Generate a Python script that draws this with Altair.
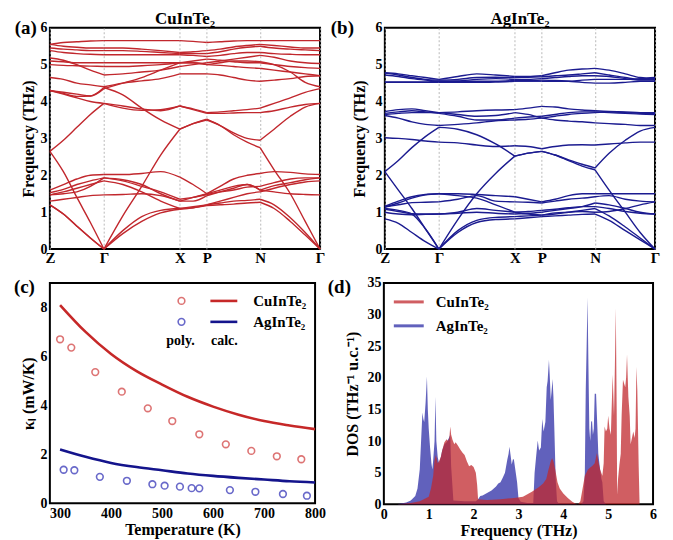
import altair as alt
import pandas as pd

FONT = "Liberation Serif"

# ---------------- phonon dispersion data ----------------
K = [0.0, 0.05, 0.1, 0.15, 0.2, 0.27, 0.34, 0.41, 0.481, 0.53, 0.581,
     0.63, 0.68, 0.73, 0.778, 0.83, 0.89, 0.945, 1.0]
SEGMENTS = [(0, 4), (4, 8), (8, 10), (10, 14), (14, 18)]
SYM_POS = [0.0, 0.2, 0.481, 0.581, 0.778, 1.0]
SYM_LAB = ["Z", "Γ", "X", "P", "N", "Γ"]

CU_BANDS = [
    [1.2, 0.95, 0.62, 0.3, 0.0, 0.42, 0.75, 0.98, 1.08, 1.12, 1.18, 1.2, 1.22, 1.25, 1.27, 1.1, 0.75, 0.38, 0.0],
    [1.2, 0.95, 0.62, 0.3, 0.0, 0.5, 0.88, 1.05, 1.1, 1.15, 1.2, 1.25, 1.3, 1.32, 1.35, 1.2, 0.85, 0.45, 0.0],
    [2.65, 2.1, 1.4, 0.72, 0.0, 0.9, 1.7, 2.55, 3.25, 3.4, 3.5, 3.35, 3.1, 2.9, 2.75, 2.15, 1.5, 0.75, 0.0],
    [2.65, 2.95, 3.3, 3.65, 3.95, 3.88, 3.8, 3.75, 3.88, 3.8, 3.7, 3.72, 3.75, 3.78, 3.82, 3.95, 4.1, 4.25, 4.35],
    [4.3, 4.2, 4.1, 4.0, 3.95, 3.82, 3.76, 3.78, 3.88, 3.78, 3.68, 3.68, 3.69, 3.7, 3.7, 3.75, 3.85, 3.92, 3.95],
    [4.3, 4.22, 4.14, 4.15, 4.38, 4.18, 3.82, 3.5, 3.25, 3.4, 3.52, 3.35, 3.15, 3.0, 2.95, 3.25, 3.6, 3.85, 3.95],
    [4.65, 4.6, 4.5, 4.45, 4.4, 4.5, 4.56, 4.62, 4.75, 4.75, 4.75, 4.72, 4.65, 4.58, 4.55, 4.58, 4.62, 4.68, 4.7],
    [4.3, 4.25, 4.2, 4.15, 4.35, 4.5, 4.65, 4.85, 5.05, 5.05, 5.0, 5.05, 5.1, 5.1, 5.08, 5.0, 4.8, 4.52, 4.4],
    [5.55, 5.6, 5.62, 5.64, 5.65, 5.65, 5.65, 5.65, 5.65, 5.63, 5.6, 5.62, 5.64, 5.65, 5.65, 5.65, 5.65, 5.65, 5.65],
    [5.55, 5.5, 5.47, 5.45, 5.45, 5.45, 5.42, 5.38, 5.33, 5.35, 5.38, 5.42, 5.48, 5.52, 5.55, 5.52, 5.48, 5.45, 5.45],
    [5.45, 5.42, 5.4, 5.38, 5.38, 5.38, 5.36, 5.33, 5.3, 5.3, 5.3, 5.35, 5.42, 5.47, 5.5, 5.45, 5.42, 5.4, 5.38],
    [5.38, 5.33, 5.3, 5.28, 5.27, 5.27, 5.27, 5.27, 5.27, 5.25, 5.22, 5.25, 5.3, 5.33, 5.33, 5.3, 5.28, 5.27, 5.27],
    [5.18, 5.12, 5.0, 4.85, 4.72, 4.75, 4.8, 4.85, 4.95, 5.0, 5.05, 5.1, 5.15, 5.2, 5.25, 5.2, 5.1, 5.05, 5.03],
    [5.1, 5.08, 5.05, 5.05, 5.05, 5.05, 5.05, 5.05, 5.05, 5.1, 5.15, 5.12, 5.08, 5.05, 5.05, 5.0, 4.95, 4.92, 4.9],
    [5.0, 4.98, 4.97, 4.96, 4.95, 4.95, 4.97, 5.0, 5.05, 5.05, 5.0, 4.98, 4.95, 4.92, 4.9, 4.85, 4.8, 4.75, 4.7],
    [1.3, 1.35, 1.4, 1.45, 1.47, 1.48, 1.5, 1.45, 1.3, 1.3, 1.45, 1.55, 1.65, 1.75, 1.6, 1.55, 1.5, 1.48, 1.47],
    [1.47, 1.55, 1.65, 1.75, 1.85, 1.75, 1.55, 1.3, 1.1, 1.12, 1.2, 1.3, 1.4, 1.5, 1.55, 1.65, 1.75, 1.82, 1.85],
    [1.53, 1.62, 1.75, 1.85, 1.93, 1.88, 1.75, 1.5, 1.3, 1.4, 1.5, 1.6, 1.7, 1.75, 1.6, 1.72, 1.8, 1.88, 1.93],
    [1.6, 1.75, 1.9, 2.0, 2.02, 2.02, 2.05, 2.1, 1.95, 1.75, 1.5, 1.7, 1.9, 2.0, 2.05, 2.1, 2.08, 2.04, 2.02],
    [1.47, 1.5, 1.55, 1.7, 1.93, 1.85, 1.7, 1.55, 1.35, 1.4, 1.48, 1.55, 1.6, 1.68, 1.7, 1.8, 1.9, 1.93, 1.93],
]

AG_BANDS = [
    [0.82, 0.7, 0.45, 0.2, 0.0, 0.45, 0.72, 0.8, 0.82, 0.85, 0.88, 0.9, 0.92, 0.94, 0.95, 0.78, 0.5, 0.25, 0.0],
    [1.1, 1.05, 0.95, 0.55, 0.0, 0.5, 0.78, 0.86, 0.88, 0.9, 0.92, 0.95, 1.0, 1.05, 1.1, 0.9, 0.6, 0.3, 0.0],
    [2.1, 1.6, 1.1, 0.55, 0.0, 0.8, 1.5, 2.05, 2.52, 2.6, 2.65, 2.55, 2.4, 2.25, 2.15, 1.6, 1.0, 0.45, 0.0],
    [2.1, 2.4, 2.75, 3.05, 3.3, 3.25, 3.1, 2.85, 2.52, 2.6, 2.65, 2.55, 2.42, 2.3, 2.2, 2.6, 2.95, 3.2, 3.3],
    [3.02, 3.0, 2.97, 2.93, 2.9, 2.88, 2.82, 2.78, 2.8, 2.78, 2.72, 2.78, 2.82, 2.83, 2.82, 2.85, 2.88, 2.9, 2.9],
    [3.62, 3.55, 3.45, 3.38, 3.35, 3.38, 3.42, 3.48, 3.5, 3.52, 3.55, 3.5, 3.47, 3.45, 3.42, 3.4, 3.38, 3.35, 3.35],
    [3.65, 3.68, 3.7, 3.7, 3.7, 3.65, 3.6, 3.62, 3.7, 3.65, 3.55, 3.6, 3.65, 3.68, 3.7, 3.72, 3.7, 3.68, 3.67],
    [3.73, 3.78, 3.8, 3.75, 3.7, 3.72, 3.75, 3.77, 3.78, 3.82, 3.87, 3.85, 3.8, 3.77, 3.75, 3.73, 3.72, 3.7, 3.7],
    [3.68, 3.72, 3.75, 3.72, 3.68, 3.6, 3.5, 3.5, 3.55, 3.58, 3.6, 3.65, 3.7, 3.72, 3.72, 3.7, 3.68, 3.66, 3.65],
    [4.78, 4.75, 4.7, 4.65, 4.6, 4.68, 4.75, 4.72, 4.68, 4.68, 4.7, 4.78, 4.85, 4.88, 4.9, 4.85, 4.75, 4.65, 4.62],
    [4.77, 4.72, 4.65, 4.6, 4.58, 4.6, 4.65, 4.66, 4.65, 4.66, 4.67, 4.7, 4.72, 4.75, 4.78, 4.72, 4.65, 4.6, 4.6],
    [4.72, 4.68, 4.62, 4.58, 4.55, 4.56, 4.6, 4.62, 4.6, 4.6, 4.62, 4.65, 4.68, 4.7, 4.7, 4.68, 4.62, 4.58, 4.58],
    [4.53, 4.53, 4.53, 4.53, 4.55, 4.55, 4.55, 4.55, 4.57, 4.57, 4.58, 4.57, 4.55, 4.52, 4.5, 4.5, 4.52, 4.55, 4.55],
    [4.52, 4.52, 4.52, 4.52, 4.52, 4.52, 4.52, 4.53, 4.55, 4.55, 4.55, 4.55, 4.55, 4.58, 4.6, 4.6, 4.6, 4.62, 4.65],
    [1.14, 1.25, 1.38, 1.47, 1.5, 1.5, 1.48, 1.45, 1.42, 1.35, 1.28, 1.35, 1.45, 1.5, 1.5, 1.5, 1.5, 1.5, 1.5],
    [1.14, 1.2, 1.26, 1.27, 1.28, 1.35, 1.45, 1.3, 1.28, 1.27, 1.25, 1.3, 1.35, 1.38, 1.42, 1.45, 1.35, 1.3, 1.28],
    [1.08, 1.02, 0.96, 0.95, 0.95, 1.0, 1.1, 1.05, 1.0, 1.02, 1.05, 1.08, 1.12, 1.15, 1.15, 1.1, 1.02, 0.97, 0.95],
    [1.0, 0.95, 0.93, 0.94, 0.95, 0.97, 1.0, 0.97, 0.95, 0.97, 1.0, 1.05, 1.1, 1.15, 1.25, 1.2, 1.1, 1.0, 0.95],
    [1.16, 1.3, 1.42, 1.48, 1.5, 1.45, 1.38, 1.2, 1.0, 0.95, 0.92, 0.98, 1.0, 1.02, 1.0, 1.02, 1.1, 1.2, 1.28],
]

# ---------------- thermal conductivity data ----------------
T_CALC = [300, 350, 400, 450, 500, 550, 600, 650, 700, 750, 800]
CU_CALC = [8.1, 7.0, 6.1, 5.4, 4.85, 4.35, 3.95, 3.62, 3.36, 3.18, 3.03]
AG_CALC = [2.2, 1.9, 1.65, 1.48, 1.35, 1.22, 1.12, 1.04, 0.97, 0.9, 0.85]
T_CU_POLY = [300, 322, 369, 421, 472, 520, 573, 625, 675, 725, 773]
CU_POLY = [6.7, 6.36, 5.36, 4.56, 3.88, 3.36, 2.82, 2.41, 2.14, 1.92, 1.8]
T_AG_POLY = [307, 328, 378, 431, 481, 505, 535, 558, 573, 633, 683, 737, 784]
AG_POLY = [1.37, 1.35, 1.08, 0.92, 0.78, 0.72, 0.68, 0.62, 0.61, 0.54, 0.47, 0.38, 0.31]

# ---------------- phonon DOS data ----------------
AG_F = [0.0, 0.3, 0.5, 0.6, 0.7, 0.75, 0.8, 0.83, 0.86, 0.88, 0.9, 0.93, 0.96, 0.98, 1.0, 1.03,
        1.06, 1.08, 1.1, 1.13, 1.15, 1.17, 1.2, 1.23, 1.27, 1.3, 1.35, 1.4, 1.45, 1.48, 1.5,
        1.55, 1.8, 2.05, 2.1, 2.15, 2.2, 2.3, 2.4, 2.5, 2.55, 2.6, 2.65, 2.7, 2.75, 2.78, 2.8,
        2.83, 2.85, 2.88, 2.9, 2.93, 2.97, 3.0, 3.05, 3.2, 3.33, 3.36, 3.4, 3.43, 3.46, 3.5,
        3.53, 3.56, 3.6, 3.63, 3.65, 3.68, 3.7, 3.72, 3.74, 3.76, 3.78, 3.8, 3.83, 3.86, 3.9,
        4.4, 4.45, 4.48, 4.5, 4.52, 4.54, 4.56, 4.58, 4.6, 4.62, 4.64, 4.66, 4.68, 4.7, 4.73,
        4.76, 4.78, 4.82, 4.85, 4.87, 4.9, 4.95, 6.0]
AG_DOS = [0.0, 0.0, 0.3, 0.6, 1.3, 2.5, 5.5, 10.0, 14.5, 13.5, 13.0, 16.0, 20.2, 15.0, 12.0, 9.0,
          6.5, 5.5, 7.0, 10.0, 17.0, 10.0, 7.5, 6.5, 7.5, 8.5, 9.5, 9.8, 10.5, 11.0, 6.0,
          0.6, 0.5, 0.5, 0.8, 1.3, 1.4, 1.8, 2.2, 2.8, 3.3, 3.5, 4.2, 5.0, 7.0, 8.0, 9.1,
          7.5, 6.3, 7.2, 7.0, 5.5, 3.5, 1.0, 0.4, 0.2, 0.2, 5.0, 8.0, 10.1, 8.5, 9.0,
          13.5, 11.5, 13.0, 18.5, 19.5, 22.8, 20.0, 16.5, 18.0, 19.8, 17.0, 12.0, 4.0, 0.5, 0.1,
          0.0, 0.5, 5.0, 18.0, 25.0, 32.7, 22.0, 12.0, 10.0, 13.0, 13.2, 11.0, 12.0, 17.5, 17.5,
          12.0, 8.0, 5.5, 4.0, 3.5, 0.5, 0.0, 0.0]
CU_F = [0.0, 0.3, 0.6, 0.8, 1.0, 1.05, 1.1, 1.13, 1.16, 1.2, 1.23, 1.27, 1.3, 1.35, 1.4, 1.43,
        1.46, 1.48, 1.5, 1.53, 1.57, 1.6, 1.65, 1.7, 1.75, 1.8, 1.85, 1.9, 1.95, 2.0, 2.05,
        2.08, 2.1, 2.3, 2.6, 2.9, 3.1, 3.3, 3.45, 3.55, 3.62, 3.67, 3.72, 3.75, 3.78, 3.82,
        3.87, 3.92, 4.0, 4.1, 4.2, 4.28, 4.33, 4.38, 4.43, 4.48, 4.55, 4.6, 4.65, 4.7, 4.73,
        4.75, 4.78, 4.82, 4.87, 4.9, 4.92, 4.95, 4.98, 5.0, 5.03, 5.06, 5.1, 5.13, 5.15, 5.17,
        5.19, 5.2, 5.22, 5.25, 5.28, 5.3, 5.33, 5.36, 5.38, 5.4, 5.42, 5.45, 5.48, 5.5, 5.53,
        5.56, 5.59, 5.61, 5.63, 5.65, 5.68, 5.7, 6.0]
CU_DOS = [0.0, 0.0, 0.2, 0.5, 1.2, 2.5, 4.5, 7.0, 7.8, 6.5, 6.8, 7.5, 8.5, 9.8, 10.3, 10.0,
          10.5, 12.3, 11.0, 10.2, 9.5, 9.8, 9.3, 8.7, 8.2, 7.8, 6.8, 6.0, 6.2, 5.9, 5.0,
          3.0, 0.8, 0.7, 0.8, 1.0, 1.2, 2.0, 2.7, 3.3, 4.0, 5.5, 6.8, 7.3, 6.8, 5.5,
          3.5, 2.5, 1.7, 1.0, 0.4, 0.1, 0.0, 0.5, 2.5, 4.5, 5.5, 5.8, 6.1, 6.5, 7.5,
          8.1, 6.8, 5.5, 4.5, 6.5, 12.3, 11.5, 12.0, 14.0, 12.0, 11.0, 20.5, 14.0, 22.0, 31.0,
          15.0, 1.5, 4.0, 6.2, 8.0, 14.0, 19.7, 19.0, 18.5, 20.0, 23.7, 17.0, 14.0, 9.5, 10.5,
          11.5, 10.5, 12.0, 21.7, 18.0, 6.0, 0.0, 0.0]

CU_LINE = "#c1272d"
AG_LINE = "#1b1b90"
CU_FILL = "#c0282d"
AG_FILL = "#2c2ca6"

PW, PH = 271, 222


def bands_frame(bands):
    rows = []
    for bi, vals in enumerate(bands):
        for si, (i0, i1) in enumerate(SEGMENTS):
            for j in range(i0, i1 + 1):
                rows.append({"k": K[j], "f": vals[j], "line": f"{bi}-{si}"})
    return pd.DataFrame(rows)


def sym_label_expr():
    parts = []
    for i in range(len(SYM_POS) - 1):
        mid = (SYM_POS[i] + SYM_POS[i + 1]) / 2
        parts.append(f"datum.value < {mid:.4f} ? '{SYM_LAB[i]}' : ")
    return "".join(parts) + f"'{SYM_LAB[-1]}'"


def text_at(text, dx, dy, size=19, align="right"):
    return alt.Chart(pd.DataFrame({"t": [text]})).mark_text(
        align=align, baseline="middle", font=FONT, fontSize=size, fontWeight="bold", color="black"
    ).encode(text="t:N", x=alt.value(dx), y=alt.value(dy))


def dispersion(bands, color, title, label, label_dx, title_pad):
    df = bands_frame(bands)
    lines = alt.Chart(df).mark_line(interpolate="monotone", strokeWidth=1.4, color=color).encode(
        x=alt.X("k:Q", scale=alt.Scale(domain=[0, 1], nice=False, zero=False),
                axis=alt.Axis(values=SYM_POS, labelExpr=sym_label_expr(), title=None,
                              grid=True, gridColor="#a8a8a8", gridDash=[2, 2], gridWidth=0.8,
                              labelFontSize=15, labelPadding=1)),
        y=alt.Y("f:Q", scale=alt.Scale(domain=[0, 6], nice=False),
                axis=alt.Axis(values=[0, 1, 2, 3, 4, 5, 6], title="Frequency (THz)",
                              titlePadding=title_pad)),
        detail="line:N",
    )
    return alt.layer(
        lines,
        text_at(label, label_dx, 0),
        text_at(title, PW / 2, -9, size=17, align="center"),
    ).properties(width=PW, height=PH)


pa = dispersion(CU_BANDS, CU_LINE, "CuInTe₂", "(a)", -13, 3)
pb = dispersion(AG_BANDS, AG_LINE, "AgInTe₂", "(b)", -31, 7)

# ---------- panel (c) ----------
xc = alt.X("T:Q", scale=alt.Scale(domain=[280, 800], nice=False, zero=False),
           axis=alt.Axis(values=[300, 400, 500, 600, 700, 800], title="Temperature (K)",
                         titlePadding=1))
yc = alt.Y("kappa:Q", scale=alt.Scale(domain=[0, 9], nice=False),
           axis=alt.Axis(values=[0, 2, 4, 6, 8], title="κₗ (mW/K)", titlePadding=3))

calc_df = pd.DataFrame({"T": T_CALC + T_CALC, "kappa": CU_CALC + AG_CALC,
                        "s": ["Cu"] * len(T_CALC) + ["Ag"] * len(T_CALC)})
cu_poly_df = pd.DataFrame({"T": T_CU_POLY, "kappa": CU_POLY})
ag_poly_df = pd.DataFrame({"T": T_AG_POLY, "kappa": AG_POLY})

cu_calc_line = alt.Chart(calc_df[calc_df.s == "Cu"]).mark_line(
    interpolate="monotone", color="#c62828", strokeWidth=2.6).encode(x=xc, y=yc)
ag_calc_line = alt.Chart(calc_df[calc_df.s == "Ag"]).mark_line(
    interpolate="monotone", color="#14148c", strokeWidth=2.6).encode(x=xc, y=yc)
cu_pts = alt.Chart(cu_poly_df).mark_point(shape="circle", filled=False, size=45, strokeWidth=1.6,
                                          color="#d03a3a").encode(x=xc, y=yc)
ag_pts = alt.Chart(ag_poly_df).mark_point(shape="circle", filled=False, size=45, strokeWidth=1.6,
                                          color="#2a2ab4").encode(x=xc, y=yc)

leg_c = pd.DataFrame({"name": ["CuInTe₂", "AgInTe₂"], "col": ["#d03a3a", "#2a2ab4"],
                      "lcol": ["#c62828", "#14148c"]})
leg_c_pts = []
for i, yv in enumerate([18, 39]):
    row = leg_c.iloc[[i]]
    leg_c_pts.append(alt.Chart(row).mark_point(shape="circle", filled=False, size=45, strokeWidth=1.6,
                                               color=row["col"].iloc[0]).encode(
        x=alt.value(132), y=alt.value(yv)))
    leg_c_pts.append(alt.Chart(row).mark_rule(strokeWidth=2.6, color=row["lcol"].iloc[0]).encode(
        x=alt.value(161), x2=alt.value(188), y=alt.value(yv)))
    leg_c_pts.append(alt.Chart(row).mark_text(align="left", baseline="middle", font=FONT, fontSize=15,
                                              fontWeight="bold", color="black").encode(
        text="name:N", x=alt.value(204), y=alt.value(yv)))
sub_df = pd.DataFrame({"t": ["poly.", "calc."], "px": [131, 175]})
sub_txt = alt.Chart(sub_df).mark_text(align="center", baseline="middle", font=FONT, fontSize=14,
                                      fontWeight="bold", color="black").encode(
    text="t:N", x=alt.X("px:Q", scale=None), y=alt.value(58))

pc = alt.layer(cu_calc_line, ag_calc_line, cu_pts, ag_pts, *leg_c_pts, sub_txt,
               text_at("(c)", -15, 4)).properties(width=266, height=221)

# ---------- panel (d) ----------
xd = alt.X("f:Q", scale=alt.Scale(domain=[0, 6], nice=False),
           axis=alt.Axis(values=[0, 1, 2, 3, 4, 5, 6], title="Frequency (THz)", titlePadding=1))
yd = alt.Y("dos:Q", scale=alt.Scale(domain=[0, 35], nice=False),
           axis=alt.Axis(values=[0, 5, 10, 15, 20, 25, 30, 35], title="DOS (THz⁻¹ u.c.⁻¹)",
                         titlePadding=6))
ag_area = alt.Chart(pd.DataFrame({"f": AG_F, "dos": AG_DOS})).mark_area(
    color=AG_FILL, opacity=0.75, interpolate="linear").encode(x=xd, y=yd)
cu_area = alt.Chart(pd.DataFrame({"f": CU_F, "dos": CU_DOS})).mark_area(
    color=CU_FILL, opacity=0.75, interpolate="linear").encode(x=xd, y=yd)

leg_d = []
for name, col, yv in [("CuInTe₂", CU_FILL, 19), ("AgInTe₂", AG_FILL, 43)]:
    row = pd.DataFrame({"name": [name]})
    leg_d.append(alt.Chart(row).mark_rule(strokeWidth=3, color=col, opacity=0.75).encode(
        x=alt.value(10), x2=alt.value(40), y=alt.value(yv)))
    leg_d.append(alt.Chart(row).mark_text(align="left", baseline="middle", font=FONT, fontSize=15,
                                          fontWeight="bold", color="black").encode(
        text="name:N", x=alt.value(52), y=alt.value(yv)))

pd_ = alt.layer(ag_area, cu_area, *leg_d, text_at("(d)", -33, 4)).properties(width=270, height=222)

row1 = alt.hconcat(pa, pb, spacing=65, bounds="flush")
row2 = alt.hconcat(pc, pd_, spacing=69, bounds="flush")
chart = alt.vconcat(row1, row2, spacing=9).properties(
    padding={"left": 4, "top": 0, "right": 4, "bottom": 2}
).configure_axis(
    labelFont=FONT, labelFontSize=14, labelFontWeight="bold", labelColor="black",
    titleFont=FONT, titleFontSize=16, titleFontWeight="bold", titleColor="black",
    domain=False, ticks=False, grid=False, labelPadding=3, labelFlush=False,
).configure_view(stroke="black", strokeWidth=2)

chart.save("out.html", embed_options={"renderer": "svg", "actions": False})
